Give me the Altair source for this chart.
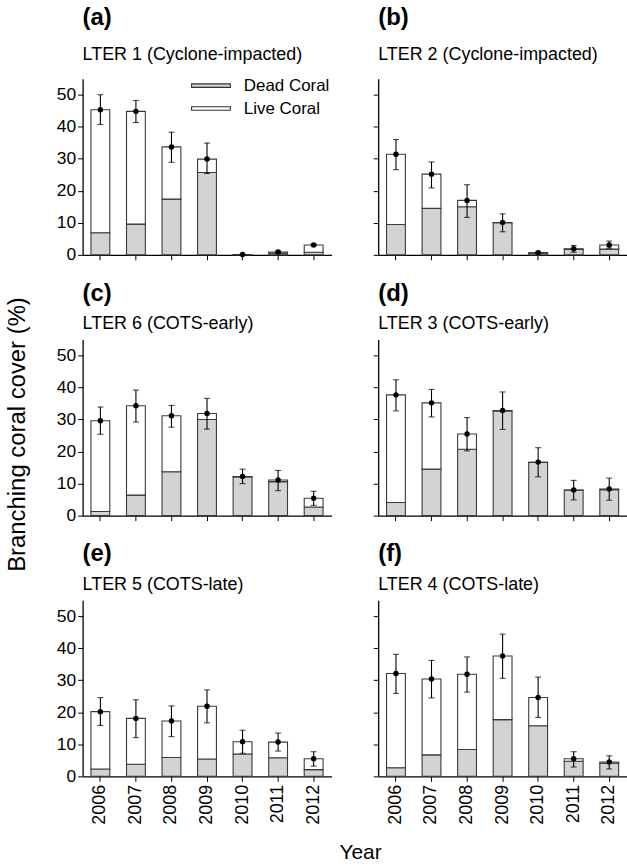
import altair as alt
import pandas as pd

FONT = "Liberation Sans"

years = ["2006", "2007", "2008", "2009", "2010", "2011", "2012"]
letters = ["a", "b", "c", "d", "e", "f"]
sites = [
    "LTER 1 (Cyclone-impacted)",
    "LTER 2 (Cyclone-impacted)",
    "LTER 6 (COTS-early)",
    "LTER 3 (COTS-early)",
    "LTER 5 (COTS-late)",
    "LTER 4 (COTS-late)",
]

# total branching cover (mean), dead portion, error-bar limits
total_a = [45.3, 44.8, 33.7, 29.9, 0.1, 0.9, 3.1]
dead_a = [6.9, 9.6, 17.4, 25.7, 0.05, 0.5, 0.8]
lo_a = [40.7, 41.3, 28.9, 25.4, 0.05, 0.6, 2.8]
hi_a = [50.0, 48.2, 38.3, 34.9, 0.15, 1.2, 3.4]

total_b = [31.4, 25.2, 17.0, 10.1, 0.7, 1.9, 3.1]
dead_b = [9.5, 14.5, 15.0, 10.0, 0.5, 1.7, 1.8]
lo_b = [26.6, 20.9, 11.7, 7.2, 0.4, 0.8, 2.1]
hi_b = [36.0, 29.0, 21.9, 12.8, 0.9, 2.9, 4.3]

total_c = [29.6, 34.3, 31.2, 31.9, 12.2, 11.1, 5.4]
dead_c = [1.3, 6.4, 13.7, 30.0, 12.1, 10.6, 2.7]
lo_c = [25.4, 29.2, 27.6, 27.0, 10.0, 7.8, 3.2]
hi_c = [33.9, 39.2, 34.4, 36.6, 14.5, 14.1, 7.6]

total_d = [37.7, 35.2, 25.5, 32.8, 16.7, 8.0, 8.3]
dead_d = [4.1, 14.5, 20.7, 32.7, 16.6, 7.9, 8.1]
lo_d = [32.7, 30.8, 20.2, 26.9, 12.1, 4.9, 4.8]
hi_d = [42.4, 39.4, 30.6, 38.6, 21.2, 11.0, 11.7]

total_e = [20.2, 18.1, 17.3, 21.9, 10.8, 10.7, 5.5]
dead_e = [2.3, 3.8, 5.9, 5.4, 7.0, 5.8, 2.1]
lo_e = [15.9, 12.1, 12.4, 16.7, 7.2, 7.9, 3.2]
hi_e = [24.6, 23.9, 22.0, 27.0, 14.4, 13.5, 7.7]

total_f = [32.1, 30.4, 31.9, 37.6, 24.6, 5.5, 4.5]
dead_f = [2.7, 6.7, 8.4, 17.7, 15.8, 4.7, 4.1]
lo_f = [25.9, 24.5, 26.3, 30.6, 18.4, 2.9, 2.3]
hi_f = [38.1, 36.2, 37.3, 44.4, 31.0, 7.7, 6.4]

series = [
    (total_a, dead_a, lo_a, hi_a),
    (total_b, dead_b, lo_b, hi_b),
    (total_c, dead_c, lo_c, hi_c),
    (total_d, dead_d, lo_d, hi_d),
    (total_e, dead_e, lo_e, hi_e),
    (total_f, dead_f, lo_f, hi_f),
]

types = ["Dead Coral", "Live Coral"]
fills = ["#d3d3d3", "#ffffff"]
y_ticks = [0, 10, 20, 30, 40, 50]

W, H = 250, 177


def make_panel(k, first_col, last_row, legend, first_row):
    tot, dead, lo, hi = series[k]
    bar_rows = []
    for y, t, d in zip(years, tot, dead):
        bar_rows.append({"year": y, "type": "Dead Coral", "ord": 0, "value": d})
        bar_rows.append({"year": y, "type": "Live Coral", "ord": 1, "value": max(t - d, 0)})
    bdf = pd.DataFrame(bar_rows)
    edf = pd.DataFrame({"year": years, "mean": tot, "lo": lo, "hi": hi})

    xaxis = alt.Axis(
        labels=last_row, labelAngle=270, tickSize=5, tickColor="black",
        domainColor="black", domainWidth=1.3, tickWidth=1,
        labelFontSize=18, labelFont=FONT, labelColor="black", labelPadding=3,
    )
    xscale = alt.Scale(paddingInner=0.47, paddingOuter=0.235)
    yscale = alt.Scale(domain=[0, 55], nice=False)
    yaxis = alt.Axis(
        values=y_ticks, labels=first_col, grid=False, title=None,
        tickSize=5, tickColor="black", domainColor="black", domainWidth=1.3,
        labelFontSize=17.5, labelFont=FONT, labelColor="black", labelPadding=2,
        labelOverlap=False,
    )

    def X():
        return alt.X("year:N", title=None, sort=years, scale=xscale, axis=xaxis)

    def Y(field):
        return alt.Y(field, scale=yscale, axis=yaxis, title=None)

    if legend:
        leg = alt.Legend(
            title=None, orient="none", legendX=120.5, legendY=-1.5, padding=0,
            symbolType="M-3.9,-0.35H3.9V0.35H-3.9Z", symbolSize=100,
            symbolStrokeColor="#333333", symbolStrokeWidth=1.1,
            labelFontSize=17, labelFont=FONT, labelColor="black",
            labelOffset=24.5, rowPadding=5,
        )
    else:
        leg = None

    bars = alt.Chart(bdf).mark_bar(stroke="#3a3a3a", strokeWidth=1.1).encode(
        x=X(),
        y=alt.Y("value:Q", stack="zero", scale=yscale, axis=yaxis, title=None),
        fill=alt.Fill("type:N", scale=alt.Scale(domain=types, range=fills), legend=leg),
        order=alt.Order("ord:Q"),
    )
    rule = alt.Chart(edf).mark_rule(color="black", strokeWidth=1.1).encode(
        x=X(), y=Y("lo:Q"), y2="hi:Q"
    )
    cap_lo = alt.Chart(edf).mark_tick(color="black", size=6, thickness=1.1, orient="horizontal").encode(
        x=X(), y=Y("lo:Q")
    )
    cap_hi = alt.Chart(edf).mark_tick(color="black", size=6, thickness=1.1, orient="horizontal").encode(
        x=X(), y=Y("hi:Q")
    )
    pts = alt.Chart(edf).mark_circle(color="black", size=30, opacity=1).encode(
        x=X(), y=Y("mean:Q")
    )
    return alt.layer(bars, rule, cap_lo, cap_hi, pts).properties(
        width=W, height=H,
        title=alt.TitleParams(
            text=f"({letters[k]})", subtitle=sites[k], anchor="start", frame="group",
            font=FONT, fontSize=24, fontWeight="bold", color="black",
            subtitleFont=FONT, subtitleFontSize=18, subtitleColor="black",
            subtitlePadding=16 if first_row else 10,
            offset=15 if first_row else 6,
        ),
    )


rows = []
for r in range(3):
    left = make_panel(2 * r, True, r == 2, r == 0, r == 0)
    right = make_panel(2 * r + 1, False, r == 2, False, r == 0)
    rows.append(alt.hconcat(left, right, spacing=41))

grid = alt.vconcat(
    *rows, spacing=18,
    title=alt.TitleParams("Year", orient="bottom", anchor="middle", font=FONT,
                          fontSize=21, fontWeight="normal", color="black",
                          offset=18, dx=19),
)

chart = alt.vconcat(
    grid,
    title=alt.TitleParams("Branching coral cover (%)", orient="left", anchor="middle",
                          font=FONT, fontSize=24, fontWeight="normal", color="black", offset=26),
).resolve_scale(fill="independent").configure_view(stroke=None).properties(
    padding={"left": 6, "top": 4, "right": 0, "bottom": 0}
)

chart.save("out.html", embed_options={"renderer": "svg", "actions": False})
